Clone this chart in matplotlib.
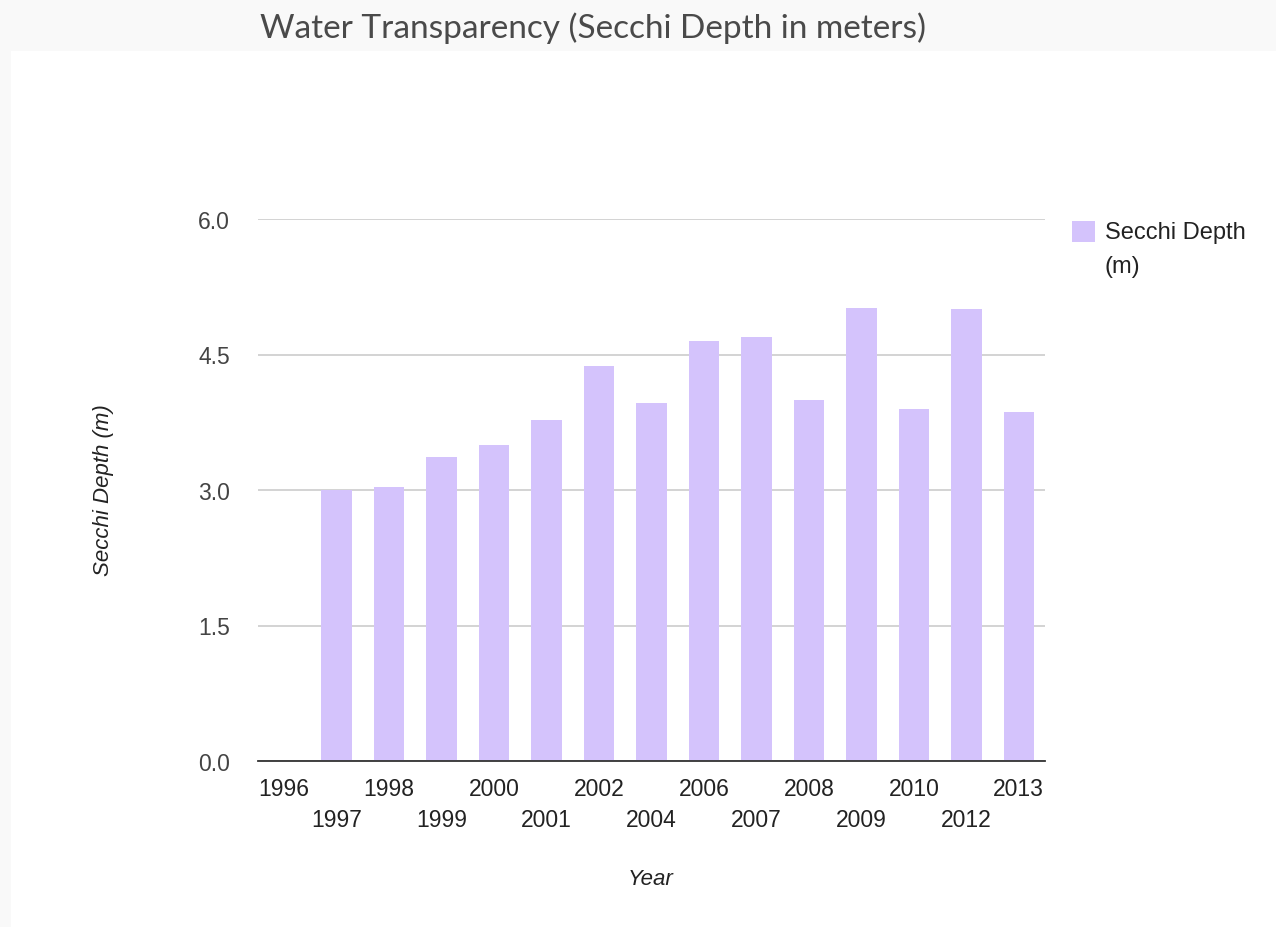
import matplotlib
matplotlib.use("Agg")
import matplotlib.pyplot as plt
from matplotlib.patches import Rectangle

years = ["1996", "1997", "1998", "1999", "2000", "2001", "2002", "2004",
         "2006", "2007", "2008", "2009", "2010", "2012", "2013"]
secchi = [None, 3.00, 3.03, 3.37, 3.50, 3.78, 4.37, 3.96,
          4.65, 4.69, 4.00, 5.01, 3.90, 5.00, 3.86]
yticks = [0.0, 1.5, 3.0, 4.5, 6.0]

W, H = 1276, 928
FS = 16.5
fig = plt.figure(figsize=(W / 100, H / 100), dpi=100, facecolor="#f9f9f9")

# white chart panel
fig.patches.append(Rectangle((11 / W, 0), 1 - 11 / W, 1 - 52 / H,
                             transform=fig.transFigure, facecolor="white",
                             edgecolor="none", zorder=-10))

ax = fig.add_axes([258 / W, 1 - 762 / H, (1045 - 258) / W, (762 - 220) / H])
ax.set_zorder(1)
ax.set_facecolor("white")

xs = list(range(len(years)))
vals = [v if v is not None else 0 for v in secchi]
bar_color = "#d4c3fc"
ax.bar(xs, vals, width=0.58, color=bar_color, zorder=2, label="Secchi Depth\n(m)")

ax.set_xlim(-0.5, len(years) - 0.5)
ax.set_ylim(0, 6)
ax.set_yticks(yticks)
ax.set_yticklabels([f"{t:.1f}" for t in yticks])
ax.yaxis.grid(True, color="#cccccc", linewidth=1.2, zorder=1)
ax.set_axisbelow(True)
for s in ["top", "right", "left"]:
    ax.spines[s].set_visible(False)
ax.spines["bottom"].set_color("#333333")
ax.spines["bottom"].set_linewidth(1.3)
ax.spines["bottom"].set_zorder(3)
ax.tick_params(axis="both", length=0, labelsize=FS, labelcolor="#444444")
ax.tick_params(axis="y", pad=20)

# staggered x labels
ax.set_xticks(xs)
ax.set_xticklabels([])
for i, y in enumerate(years):
    off = 28 if i % 2 == 0 else 59
    ax.annotate(y, xy=(i, 0), xycoords=("data", "axes fraction"),
                xytext=(0, -off), textcoords="offset pixels",
                ha="center", va="center", fontsize=FS, color="#222222",
                family="Liberation Sans", annotation_clip=False)
for lbl in ax.get_yticklabels():
    lbl.set_family("Liberation Sans")

fig.text(651 / W, 1 - 880 / H, "Year", ha="center", va="center",
         fontsize=16, style="italic", color="#222222", family="Liberation Sans")
fig.text(103 / W, 1 - 490 / H, "Secchi Depth (m)", ha="center", va="center",
         rotation=90, fontsize=16, style="italic", color="#222222",
         family="Liberation Sans")

fig.text(593 / W, 1 - 28 / H, "Water Transparency (Secchi Depth in meters)",
         ha="center", va="center", fontsize=24, color="#4a4a4a", family="Lato")

# legend
fig.patches.append(Rectangle((1072 / W, 1 - 243 / H), 23 / W, 21 / H,
                             transform=fig.transFigure, facecolor=bar_color,
                             edgecolor="none"))
fig.text(1105 / W, 1 - 233 / H, "Secchi Depth", ha="left", va="center",
         fontsize=17, color="#222222", family="Liberation Sans")
fig.text(1105 / W, 1 - 267 / H, "(m)", ha="left", va="center",
         fontsize=17, color="#222222", family="Liberation Sans")

fig.savefig("out.png", dpi=100, facecolor=fig.get_facecolor())
